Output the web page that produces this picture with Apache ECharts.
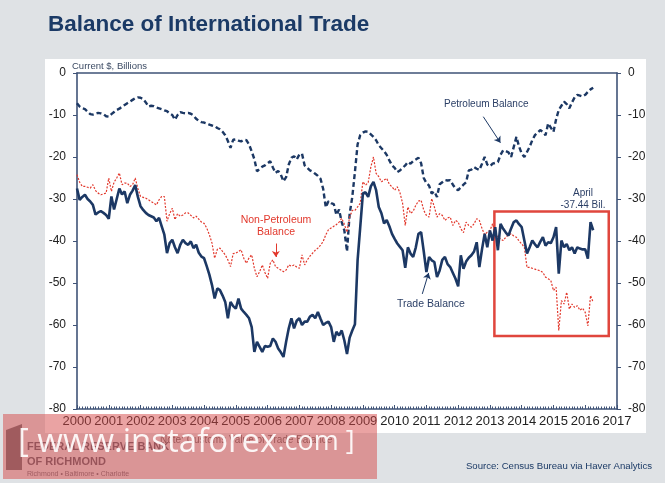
<!DOCTYPE html>
<html>
<head>
<meta charset="utf-8">
<title>Balance of International Trade</title>
<script src="https://cdn.jsdelivr.net/npm/echarts@6/dist/echarts.min.js"></script>
<style>
    html, body { margin: 0; padding: 0; background: #dfe2e5; }
    #main { width: 665px; height: 483px; }
</style>
</head>
<body>
<div id="main"></div>
<script>
// monthly values, Jan 2000 .. Apr 2016, $ billions
const startYear = 2000

const petroleum = [
    -7.2, -8.0, -8.4, -8.6, -9.2, -9.8, -9.9, -9.7, -9.5, -9.6, -9.8, -10.3,
    -10.4, -9.8, -9.3, -8.8, -8.5, -8.0, -7.6, -7.2, -6.8, -6.4, -6.0, -5.8,
    -5.9, -6.2, -7.0, -8.0, -7.8, -7.9, -8.2, -8.4, -8.6, -8.9, -9.1, -9.6,
    -10.0, -11.1, -10.0, -9.3, -9.5, -9.6, -9.5, -9.7, -10.1, -10.9, -11.4, -11.7,
    -11.8, -12.0, -12.3, -12.5, -12.6, -13.1, -13.4, -14.0, -14.8, -16.2, -17.8, -15.9,
    -15.8, -16.1, -16.3, -15.9, -16.0, -17.0, -18.7, -20.5, -23.4, -22.8, -22.3, -22.0,
    -21.5, -21.0, -22.5, -23.8, -23.3, -24.2, -25.8, -24.8, -21.8, -20.2, -19.8, -20.6,
    -19.4, -19.2, -22.0, -22.6, -23.2, -23.5, -24.0, -24.5, -25.2, -27.6, -32.0, -30.5,
    -31.0, -31.2, -33.8, -32.5, -35.5, -37.5, -42.5, -33.5, -29.5, -23.5, -17.0, -14.8,
    -14.2, -13.9, -14.0, -14.6, -15.2, -16.0, -17.2, -17.9, -18.6, -19.5, -20.8, -22.0,
    -22.6, -23.6, -23.2, -22.6, -22.0, -21.2, -21.6, -21.0, -20.6, -20.2, -21.5, -25.0,
    -26.2, -26.8, -28.7, -28.2, -29.5, -26.5, -26.0, -25.5, -25.6, -25.5, -26.6, -27.5,
    -27.9, -27.2, -26.6, -26.0, -23.2, -23.0, -22.4, -22.8, -23.1, -21.6, -20.0, -21.8,
    -22.2, -21.6, -21.4, -21.2, -19.5, -18.4, -18.6, -18.9, -20.0, -17.6, -15.2, -17.5,
    -19.2, -20.0, -18.8, -17.6, -16.0, -14.8, -14.2, -13.6, -14.0, -14.8, -12.0, -13.0,
    -14.0, -11.0, -8.8, -7.8, -6.8, -7.4, -8.4, -7.0, -5.8, -5.2, -5.4, -5.6,
    -5.2, -4.5, -3.9, -3.5
]

const nonPetroleum = [
    -24.2, -26.0, -27.0, -27.0, -27.2, -27.4, -26.6, -28.0, -28.6, -29.0, -28.8, -28.6,
    -25.0, -28.2, -26.0, -25.0, -23.8, -26.6, -26.2, -26.2, -27.0, -26.6, -25.0, -27.5,
    -29.4, -29.6, -29.8, -30.2, -30.6, -31.0, -31.4, -30.2, -29.4, -29.4, -35.3, -33.5,
    -32.2, -34.9, -33.5, -34.1, -33.8, -33.3, -33.3, -33.9, -34.5, -34.1, -34.8, -35.5,
    -35.8, -36.9, -38.5, -40.5, -44.1, -42.0, -41.7, -42.5, -43.3, -44.5, -46.1, -43.0,
    -42.9, -42.5, -42.1, -44.1, -45.3, -44.0, -43.3, -46.5, -48.5, -47.3, -45.7, -47.5,
    -48.9, -45.3, -44.5, -46.1, -46.5, -46.9, -47.3, -46.9, -45.7, -46.0, -45.7, -46.2,
    -46.5, -43.3, -45.7, -44.5, -43.6, -42.9, -42.2, -41.7, -41.0, -40.1, -38.5, -37.3,
    -36.9, -36.5, -36.1, -35.5, -34.6, -36.0, -37.9, -34.3, -32.7, -32.7, -31.9, -31.0,
    -25.9, -26.7, -26.1, -22.4, -20.0, -23.9, -24.7, -25.9, -25.5, -25.1, -26.5, -27.1,
    -27.9, -27.1, -28.5, -31.0, -36.3, -31.9, -33.4, -32.9, -31.5, -30.5, -30.3, -32.7,
    -33.9, -34.3, -29.9, -31.9, -34.3, -33.5, -33.9, -35.1, -34.5, -34.3, -36.3, -35.1,
    -35.5, -37.1, -38.0, -35.5, -36.3, -36.7, -35.9, -34.7, -35.1, -37.0, -38.5, -37.9,
    -37.5, -35.9, -38.3, -39.1, -39.5, -39.9, -39.1, -38.5, -38.3, -38.8, -39.1, -40.0,
    -40.7, -41.5, -46.3, -46.3, -46.5, -46.7, -46.9, -47.1, -47.5, -48.6, -49.0, -49.4,
    -51.8, -51.0, -61.3, -54.2, -55.0, -52.2, -56.2, -55.0, -55.8, -55.4, -56.5, -56.0,
    -57.0, -60.2, -53.0, -54.6
]

const trade = [
    -27.5, -30.2, -29.5, -29.0, -30.0, -30.6, -31.4, -33.7, -33.2, -32.9, -33.3, -33.8,
    -34.7, -29.4, -32.5, -30.0, -27.5, -28.9, -28.2, -31.0, -29.0, -28.0, -26.7, -29.5,
    -31.7, -32.6, -33.3, -33.8, -34.1, -34.4, -35.3, -34.5, -36.5, -38.5, -42.9, -40.5,
    -39.7, -41.5, -42.9, -40.9, -39.7, -40.5, -40.9, -40.1, -41.7, -40.9, -42.8, -43.7,
    -44.1, -46.0, -48.0, -50.5, -53.7, -51.3, -51.7, -53.0, -54.5, -58.4, -54.5, -55.5,
    -56.1, -53.7, -56.1, -56.9, -57.6, -58.4, -60.5, -66.4, -64.0, -65.2, -66.4, -65.0,
    -65.2, -65.0, -63.2, -64.0, -65.6, -66.5, -67.6, -64.0, -60.8, -58.4, -60.8, -59.0,
    -58.4, -60.0, -59.2, -59.2, -58.0, -57.6, -58.4, -56.9, -58.5, -60.0, -59.5, -59.2,
    -60.5, -64.0, -61.6, -62.5, -61.3, -63.7, -66.9, -63.0, -61.3, -59.8, -44.6, -36.7,
    -28.7, -28.4, -29.5, -27.0, -25.9, -27.9, -31.9, -33.4, -35.8, -35.0, -36.5, -38.3,
    -39.5, -40.6, -41.4, -42.2, -46.4, -41.5, -43.0, -43.8, -41.5, -38.3, -37.9, -42.5,
    -47.4, -43.8, -44.6, -45.0, -48.6, -47.0, -44.5, -43.8, -45.5, -46.2, -47.6, -49.0,
    -50.8, -43.4, -46.6, -44.9, -44.0, -43.4, -42.5, -40.3, -46.2, -42.0, -38.3, -41.5,
    -37.5, -39.9, -36.7, -42.2, -35.9, -37.1, -38.0, -38.7, -37.0, -35.5, -35.1, -36.0,
    -36.7, -39.9, -43.0, -41.5, -39.9, -40.8, -41.5, -40.2, -39.1, -41.1, -40.3, -40.5,
    -39.1, -36.7, -47.8, -39.9, -41.5, -40.7, -42.2, -41.5, -43.0, -41.5, -41.8, -42.0,
    -42.0, -44.2, -35.5, -37.44
]

// highlighted recent period (x: year, y: $bn)
const boxFrom = [2013.14, -33]
const boxTo = [2016.74, -62.6]

const toPoints = arr => arr.map((v, i) => [startYear + i / 12, v])

const font = 'Liberation Sans'
const navy = '#1c3864'
const red = '#e2382c'
const axisColor = '#3f5377'

let chart = echarts.init(document.getElementById('main'))

const yAxisBase = {
    type: 'value',
    min: -80,
    max: 0,
    interval: 10,
    axisLine: { show: true, onZero: false, lineStyle: { color: axisColor, width: 1.6 } },
    axisTick: { show: true, length: 4, lineStyle: { color: axisColor } },
    axisLabel: { color: '#222', fontSize: 12, margin: 11, fontFamily: font },
    splitLine: { show: false }
}

const arrow = (from, to, color) => [
    { coord: from, lineStyle: { color: color, width: 1, type: 'solid' } },
    { coord: to }
]

let option = {
    backgroundColor: '#dfe2e5',
    animation: false,
    grid: { left: 77, right: 48, top: 73, bottom: 74 },
    xAxis: [
        {
            type: 'value',
            min: 2000,
            max: 2017,
            interval: 1,
            position: 'bottom',
            axisLine: { onZero: false, lineStyle: { color: axisColor, width: 1.6 } },
            axisTick: { show: true, inside: true, length: 4, lineStyle: { color: axisColor } },
            minorTick: { show: true, splitNumber: 12, length: 2.5, lineStyle: { color: axisColor } },
            axisLabel: { formatter: v => String(v), color: '#222', fontSize: 13, margin: 6, fontFamily: font },
            splitLine: { show: false }
        },
        {
            type: 'value',
            min: 2000,
            max: 2017,
            position: 'top',
            axisLine: { onZero: false, lineStyle: { color: axisColor, width: 1.6 } },
            axisTick: { show: false },
            axisLabel: { show: false },
            splitLine: { show: false }
        }
    ],
    yAxis: [
        Object.assign({}, yAxisBase, { position: 'left' }),
        Object.assign({}, yAxisBase, { position: 'right' })
    ],
    series: [
        {
            name: 'Petroleum Balance',
            type: 'line',
            data: toPoints(petroleum),
            showSymbol: false,
            lineStyle: { color: navy, width: 2.4, type: [5, 3] }
        },
        {
            name: 'Non-Petroleum Balance',
            type: 'line',
            data: toPoints(nonPetroleum),
            showSymbol: false,
            lineStyle: { color: red, width: 1.2, type: [2, 1.5] }
        },
        {
            name: 'Trade Balance',
            type: 'line',
            data: toPoints(trade),
            showSymbol: false,
            lineStyle: { color: navy, width: 2.6 },
            markArea: {
                silent: true,
                itemStyle: { color: 'rgba(0,0,0,0)', borderColor: '#e0463d', borderWidth: 2.5 },
                data: [[{ coord: boxFrom }, { coord: boxTo }]]
            },
            markLine: {
                silent: true,
                symbol: ['none', 'arrow'],
                symbolSize: 6,
                label: { show: false },
                data: [
                    arrow([2012.79, -10.4], [2013.33, -16.6], navy),
                    arrow([2006.26, -40.6], [2006.26, -43.8], red),
                    arrow([2010.87, -52.6], [2011.07, -47.6], navy)
                ]
            }
        }
    ],
    graphic: [
        // white chart panel
        { type: 'rect', z: -10, shape: { x: 45, y: 59, width: 601, height: 374 }, style: { fill: '#fff' } },
        { type: 'text', left: 48, top: 13, style: { text: 'Balance of International Trade', fill: '#1b3a66', font: 'bold 22.5px "Liberation Sans"' } },
        { type: 'text', left: 72, top: 61, style: { text: 'Current $, Billions', fill: '#3b4a63', font: '9.5px "Liberation Sans"' } },
        { type: 'text', left: 444, top: 99, style: { text: 'Petroleum Balance', fill: '#2b3f66', font: '10px "Liberation Sans"' } },
        { type: 'text', x: 276, y: 214, style: { text: 'Non-Petroleum\nBalance', fill: red, font: '10.5px "Liberation Sans"', align: 'center', verticalAlign: 'top', lineHeight: 12 } },
        { type: 'text', left: 397, top: 299, style: { text: 'Trade Balance', fill: '#2b3f66', font: '10.5px "Liberation Sans"' } },
        { type: 'text', x: 583, y: 187, style: { text: 'April\n-37.44 Bil.', fill: '#2b3f66', font: '10px "Liberation Sans"', align: 'center', verticalAlign: 'top', lineHeight: 12 } },
        { type: 'text', left: 160, top: 435, style: { text: 'Note: Customs Value of Trade Balance', fill: '#666', font: '10px "Liberation Sans"' } },
        { type: 'text', right: 13, top: 461, style: { text: 'Source: Census Bureau via Haver Analytics', fill: '#1b3a66', font: '9.6px "Liberation Sans"' } },
        // bank logo
        { type: 'polygon', shape: { points: [[6, 430], [22, 424], [22, 470], [6, 470]] }, style: { fill: '#6b6e75' } },
        { type: 'text', left: 27, top: 441, style: { text: 'FEDERAL RESERVE BANK', fill: '#5a5f6a', font: 'bold 11px "Liberation Sans Narrow", "Liberation Sans"' } },
        { type: 'text', left: 27, top: 456, style: { text: 'OF RICHMOND', fill: '#5a5f6a', font: 'bold 11px "Liberation Sans Narrow", "Liberation Sans"' } },
        { type: 'text', left: 27, top: 471, style: { text: 'Richmond • Baltimore • Charlotte', fill: '#6a6f78', font: '7px "Liberation Sans"' } },
        // watermark
        { type: 'rect', z: 100, shape: { x: 3, y: 414, width: 374, height: 65 }, style: { fill: 'rgba(214,72,72,0.5)' } },
        {
            type: 'text', z: 101, left: 18, top: 426,
            style: {
                text: '{a|[ www.instaforex}{b|.com ]}',
                rich: {
                    a: { fill: 'rgba(255,255,255,0.9)', fontSize: 33, fontFamily: 'Open Sans' },
                    b: { fill: 'rgba(255,255,255,0.9)', fontSize: 27, fontFamily: 'Open Sans' }
                }
            }
        }
    ]
}

chart.setOption(option)
window.addEventListener('resize', () => chart.resize())
</script>
</body>
</html>
